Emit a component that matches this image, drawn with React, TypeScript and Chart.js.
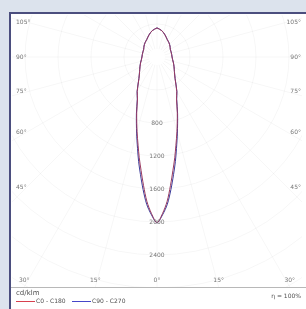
import { useEffect, useRef } from "react";
import { Chart, registerables } from "chart.js";
Chart.register(...registerables);

// gamma angles (deg, 0 = straight down) and luminous intensity (cd/klm)
const gammaAngles = [0, 2, 4, 6, 8, 10, 12, 15, 20, 25, 30, 40, 50, 60, 70, 80, 90, 100, 110, 120, 130, 140, 150, 160, 170, 180];
const c0c180 = [2010, 1900, 1755, 1565, 1388, 1240, 1100, 935, 720, 560, 480, 340, 275, 238, 212, 192, 182, 180, 181, 186, 205, 225, 246, 284, 325, 352];
const c90c270 = [2010, 1915, 1790, 1615, 1440, 1285, 1135, 955, 730, 565, 482, 342, 276, 239, 213, 193, 183, 181, 182, 187, 206, 226, 247, 285, 326, 353];

const seriesNames = ["C0 - C180", "C90 - C270"];
const seriesColors = ["#d8404e", "#4646c8"];
const curveColors = ["#9a3a60", "#3c3c9a"];

const ringValues = [400, 800, 1200, 1600, 2000, 2400, 2800, 3200];
const ringLabelValues = [800, 1200, 1600, 2000, 2400];
const radialStep = 15;
const sideAngles = [105, 90, 75, 60, 45];
const sideLabels = ["105°", "90°", "75°", "60°", "45°"];
const bottomAngles = [-30, -15, 0, 15, 30];
const bottomLabels = ["30°", "15°", "0°", "15°", "30°"];
const unitLabel = "cd/klm";
const efficiencyLabel = "η = 100%";

const X_MIN = -1758, X_MAX = 1758, Y_MIN = -2788, Y_MAX = 509;

function curvePoints(values: number[]) {
  const pts: { x: number; y: number }[] = [];
  for (let i = gammaAngles.length - 1; i >= 0; i--) {
    const g = (gammaAngles[i] * Math.PI) / 180;
    pts.push({ x: -values[i] * Math.sin(g), y: -values[i] * Math.cos(g) });
  }
  for (let i = 1; i < gammaAngles.length; i++) {
    const g = (gammaAngles[i] * Math.PI) / 180;
    pts.push({ x: values[i] * Math.sin(g), y: -values[i] * Math.cos(g) });
  }
  return pts;
}

const FONT = "DejaVu Sans";

const polarPlugin = {
  id: "polarPlugin",
  beforeDraw(chart: any) {
    const { ctx, chartArea: ca, scales } = chart;
    const W = chart.width, H = chart.height;
    const sx = scales.x, sy = scales.y;
    ctx.save();
    ctx.fillStyle = "#dce3ed";
    ctx.fillRect(0, 0, W, H);
    ctx.fillStyle = "#ffffff";
    ctx.fillRect(11, 14, W - 11, H - 14);
    ctx.fillStyle = "#4b4e7e";
    ctx.fillRect(9, 12, W - 9, 2);
    ctx.fillRect(9, 12, 2, H - 12);

    const ox = sx.getPixelForValue(0), oy = sy.getPixelForValue(0);
    const k = Math.abs(sx.getPixelForValue(1000) - ox) / 1000;
    ctx.save();
    ctx.beginPath();
    ctx.rect(ca.left, ca.top, ca.right - ca.left, ca.bottom - ca.top);
    ctx.clip();
    ctx.strokeStyle = "rgba(0,0,0,0.035)";
    ctx.lineWidth = 1;
    for (const v of ringValues) {
      ctx.beginPath();
      ctx.arc(ox, oy, v * k, 0, Math.PI * 2);
      ctx.stroke();
    }
    for (let a = 0; a < 360; a += radialStep) {
      const r = (a * Math.PI) / 180;
      ctx.beginPath();
      ctx.moveTo(ox + Math.sin(r) * 8, oy + Math.cos(r) * 8);
      ctx.lineTo(ox + Math.sin(r) * 1000, oy + Math.cos(r) * 1000);
      ctx.stroke();
    }
    ctx.restore();

    // bottom axis line
    ctx.strokeStyle = "#b8b8b8";
    ctx.lineWidth = 1;
    ctx.beginPath();
    ctx.moveTo(11, Math.round(ca.bottom) + 0.5);
    ctx.lineTo(W, Math.round(ca.bottom) + 0.5);
    ctx.stroke();
    ctx.restore();
  },
  afterDatasetsDraw(chart: any) {
    const { ctx, chartArea: ca, scales } = chart;
    const W = chart.width;
    const sx = scales.x, sy = scales.y;
    const ox = sx.getPixelForValue(0), oy = sy.getPixelForValue(0);
    const k = Math.abs(sx.getPixelForValue(1000) - ox) / 1000;
    ctx.save();
    ctx.font = `6px "${FONT}"`;
    ctx.fillStyle = "#767676";
    ctx.textBaseline = "middle";
    ctx.textAlign = "center";
    for (const v of ringLabelValues) {
      ctx.fillText(String(v), ox, oy + v * k);
    }
    const d = 130;
    sideAngles.forEach((a, i) => {
      const yy = oy - d * Math.tan(((a - 90) * Math.PI) / 180);
      ctx.textAlign = "left";
      ctx.fillText(sideLabels[i], ca.left + 4, yy);
      ctx.textAlign = "right";
      ctx.fillText(sideLabels[i], ca.right - 1, yy);
    });
    ctx.textAlign = "center";
    const db = ca.bottom - oy;
    bottomAngles.forEach((a, i) => {
      const xx = ox + db * Math.tan((a * Math.PI) / 180);
      ctx.fillText(bottomLabels[i], xx, ca.bottom - 7);
    });
    ctx.fillStyle = "#505050";
    ctx.textAlign = "left";
    ctx.font = `7px "${FONT}"`;
    ctx.fillText(unitLabel, 16, 293);
    ctx.font = `6px "${FONT}"`;
    ctx.textAlign = "right";
    ctx.fillText(efficiencyLabel, W - 5, 296);
    ctx.textAlign = "left";
    const legendX = [16, 72];
    seriesNames.forEach((n, i) => {
      ctx.strokeStyle = seriesColors[i];
      ctx.lineWidth = 1;
      ctx.beginPath();
      ctx.moveTo(legendX[i], 301.5);
      ctx.lineTo(legendX[i] + 19, 301.5);
      ctx.stroke();
      ctx.fillStyle = "#505050";
      ctx.fillText(n, legendX[i] + 20, 301);
    });
    ctx.restore();
  },
};

export default function App() {
  const ref = useRef<HTMLCanvasElement | null>(null);
  useEffect(() => {
    document.body.style.margin = "0";
    const canvas = ref.current;
    if (!canvas) return;
    const chart = new Chart(canvas, {
      type: "scatter",
      data: {
        datasets: [
          {
            label: seriesNames[0],
            data: curvePoints(c0c180),
            showLine: true,
            borderColor: curveColors[0],
            borderWidth: 1,
            pointRadius: 0,
            tension: 0.3,
            fill: false,
          },
          {
            label: seriesNames[1],
            data: curvePoints(c90c270),
            showLine: true,
            borderColor: curveColors[1],
            borderWidth: 1,
            pointRadius: 0,
            tension: 0.3,
            fill: false,
          },
        ],
      },
      options: {
        animation: false,
        responsive: false,
        maintainAspectRatio: false,
        layout: { padding: { left: 12, right: 4, top: 15, bottom: 22 } },
        scales: {
          x: { type: "linear", min: X_MIN, max: X_MAX, display: false },
          y: { type: "linear", min: Y_MIN, max: Y_MAX, display: false },
        },
        plugins: { legend: { display: false }, tooltip: { enabled: false } },
      },
      plugins: [polarPlugin],
    });
    return () => chart.destroy();
  }, []);
  return <canvas ref={ref} width={306} height={309} style={{ display: "block" }} />;
}
